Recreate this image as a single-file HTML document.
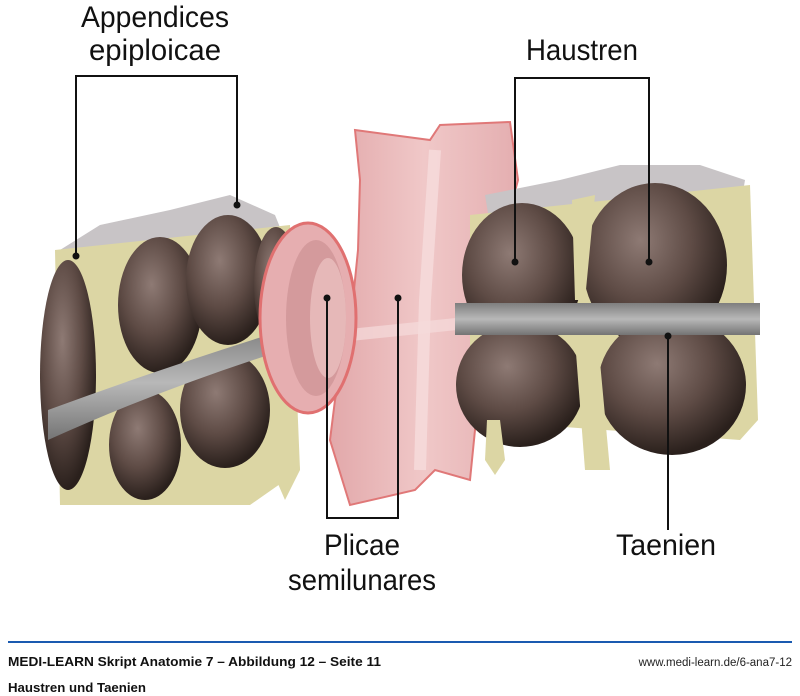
<!DOCTYPE html>
<html><head><meta charset="utf-8"><style>
html,body{margin:0;padding:0;background:#fff;}
body{width:800px;height:696px;position:relative;overflow:hidden;font-family:"Liberation Sans",sans-serif;}
svg{position:absolute;left:0;top:0;}
.lbl{font-family:"Liberation Sans",sans-serif;font-size:30px;fill:#111;}
</style></head><body>
<svg width="800" height="696" viewBox="0 0 800 696">
<defs>
<radialGradient id="br" cx="40%" cy="35%" r="65%">
<stop offset="0" stop-color="#8e7a74"/><stop offset="0.55" stop-color="#5e4b45"/><stop offset="1" stop-color="#2a201c"/>
</radialGradient>
<linearGradient id="pk" x1="0" x2="1">
<stop offset="0" stop-color="#e2a8aa"/><stop offset="0.5" stop-color="#f0c8c8"/><stop offset="1" stop-color="#e4aeb0"/>
</linearGradient>
<linearGradient id="band" x1="0" y1="0" x2="0" y2="1">
<stop offset="0" stop-color="#7e7e7e"/><stop offset="0.5" stop-color="#b8b8b8"/><stop offset="1" stop-color="#747474"/>
</linearGradient>
</defs>

<!-- LEFT SEGMENT -->
<path d="M60 250 L100 225 L170 210 L230 195 L275 215 L285 240 L70 265 Z" fill="#c8c4c6"/>
<path d="M55 250 L290 225 L300 470 L250 505 L60 505 Z" fill="#dcd6a4"/>
<ellipse cx="68" cy="375" rx="28" ry="115" fill="url(#br)"/>
<ellipse cx="160" cy="305" rx="42" ry="68" fill="url(#br)"/>
<ellipse cx="228" cy="280" rx="42" ry="65" fill="url(#br)"/>
<ellipse cx="276" cy="285" rx="22" ry="58" fill="url(#br)"/>
<ellipse cx="145" cy="445" rx="36" ry="55" fill="url(#br)"/>
<ellipse cx="225" cy="410" rx="45" ry="58" fill="url(#br)"/>
<path d="M48 410 Q170 365 300 325 L300 345 Q170 385 48 440 Z" fill="url(#band)"/>
<path d="M275 420 L295 420 L300 470 L285 500 L272 470 Z" fill="#dcd6a4"/>

<!-- PINK TUBE -->
<path d="M355 130 L430 140 L440 125 L510 122 L518 180 L505 230 L495 300 L480 380 L470 480 L435 470 L415 490 L350 505 L330 440 L335 400 L350 330 L358 250 L360 180 Z" fill="url(#pk)" stroke="#e07878" stroke-width="2"/>
<path d="M435 150 L425 300 L420 470" stroke="#f6dcdc" stroke-width="12" fill="none" opacity=".8"/>
<path d="M350 335 L495 320" stroke="#f6dcdc" stroke-width="12" opacity=".7"/>
<ellipse cx="308" cy="318" rx="48" ry="95" fill="#e6aeb0" stroke="#e07070" stroke-width="3"/>
<ellipse cx="316" cy="318" rx="30" ry="78" fill="#d49a9c"/>
<ellipse cx="328" cy="318" rx="18" ry="60" fill="#e6b8b8"/>

<!-- RIGHT SEGMENT -->
<path d="M485 195 L560 180 L620 165 L700 165 L745 180 L740 210 L490 225 Z" fill="#c8c4c6"/>
<path d="M470 215 L750 185 L758 420 L740 440 L470 420 Z" fill="#dcd6a4"/>
<ellipse cx="522" cy="275" rx="60" ry="72" fill="url(#br)"/>
<ellipse cx="655" cy="265" rx="72" ry="82" fill="url(#br)"/>
<ellipse cx="520" cy="385" rx="64" ry="62" fill="url(#br)"/>
<ellipse cx="672" cy="385" rx="74" ry="70" fill="url(#br)"/>
<path d="M572 200 L595 195 L585 300 L575 300 Z" fill="#dcd6a4"/>
<rect x="455" y="303" width="305" height="32" fill="url(#band)"/>
<path d="M487 420 L500 420 L505 460 L495 475 L485 460 Z" fill="#dcd6a4"/>
<path d="M575 340 L598 340 L610 470 L585 470 Z" fill="#dcd6a4"/>

<!-- leader lines -->
<g stroke="#111" stroke-width="2" fill="none">
<path d="M76 256 V76 H237 V205"/>
<path d="M515 262 V78 H649 V262"/>
<path d="M327 298 V518 H398 V298"/>
<path d="M668 336 V530"/>
</g>
<g fill="#111">
<circle cx="76" cy="256" r="3.5"/><circle cx="237" cy="205" r="3.5"/>
<circle cx="515" cy="262" r="3.5"/><circle cx="649" cy="262" r="3.5"/>
<circle cx="327" cy="298" r="3.5"/><circle cx="398" cy="298" r="3.5"/>
<circle cx="668" cy="336" r="3.5"/>
</g>

<text class="lbl" x="155" y="27" text-anchor="middle" textLength="148" lengthAdjust="spacingAndGlyphs">Appendices</text>
<text class="lbl" x="155" y="60" text-anchor="middle" textLength="132" lengthAdjust="spacingAndGlyphs">epiploicae</text>
<text class="lbl" x="582" y="60" text-anchor="middle" textLength="112" lengthAdjust="spacingAndGlyphs">Haustren</text>
<text class="lbl" x="362" y="555" text-anchor="middle" textLength="76" lengthAdjust="spacingAndGlyphs">Plicae</text>
<text class="lbl" x="362" y="590" text-anchor="middle" textLength="148" lengthAdjust="spacingAndGlyphs">semilunares</text>
<text class="lbl" x="666" y="555" text-anchor="middle" textLength="100" lengthAdjust="spacingAndGlyphs">Taenien</text>

<rect x="8" y="641" width="784" height="2" fill="#1a5ab0"/>
<text x="8" y="666" font-family="Liberation Sans, sans-serif" font-weight="bold" font-size="13" fill="#111" textLength="373" lengthAdjust="spacingAndGlyphs">MEDI-LEARN Skript Anatomie 7 – Abbildung 12 – Seite 11</text>
<text x="792" y="666" text-anchor="end" font-family="Liberation Sans, sans-serif" font-size="11.5" fill="#222">www.medi-learn.de/6-ana7-12</text>
<text x="8" y="692" font-family="Liberation Sans, sans-serif" font-weight="bold" font-size="13" fill="#111" textLength="138" lengthAdjust="spacingAndGlyphs">Haustren und Taenien</text>
</svg>
</body></html>
